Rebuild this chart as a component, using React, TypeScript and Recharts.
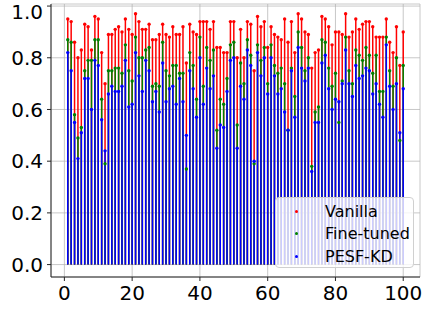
import { ScatterChart, Scatter, ErrorBar, XAxis, YAxis, CartesianGrid, Legend } from 'recharts';

// run index on the x axis
const runs = Array.from({ length: 100 }, (_, i) => i + 1);

const vanilla = [
  0.95, 0.94, 0.86, 0.8, 0.83, 0.93, 0.92, 0.83, 0.96, 0.95,
  0.82, 0.7, 0.89, 0.89, 0.91, 0.92, 0.9, 0.95, 0.91, 0.89,
  0.97, 0.94, 0.91, 0.91, 0.93, 0.87, 0.87, 0.89, 0.93, 0.89,
  0.88, 0.92, 0.89, 0.89, 0.92, 0.78, 0.93, 0.9, 0.89, 0.94,
  0.94, 0.94, 0.91, 0.94, 0.84, 0.84, 0.82, 0.82, 0.94, 0.94,
  0.8, 0.91, 0.8, 0.94, 0.93, 0.75, 0.96, 0.92, 0.94, 0.84,
  0.92, 0.89, 0.88, 0.87, 0.95, 0.86, 0.94, 0.82, 0.97, 0.95,
  0.9, 0.89, 0.76, 0.82, 0.83, 0.96, 0.95, 0.92, 0.85, 0.9,
  0.9, 0.89, 0.97, 0.88, 0.9, 0.95, 0.91, 0.93, 0.94, 0.94,
  0.92, 0.88, 0.88, 0.88, 0.95, 0.86, 0.82, 0.92, 0.77, 0.9,
];

const fineTuned = [
  0.87, 0.86, 0.58, 0.49, 0.53, 0.75, 0.79, 0.79, 0.87, 0.87,
  0.64, 0.39, 0.75, 0.75, 0.76, 0.76, 0.74, 0.85, 0.75, 0.71,
  0.88, 0.8, 0.8, 0.83, 0.84, 0.69, 0.7, 0.69, 0.86, 0.75,
  0.73, 0.77, 0.77, 0.74, 0.74, 0.37, 0.82, 0.77, 0.64, 0.88,
  0.69, 0.84, 0.79, 0.83, 0.52, 0.64, 0.62, 0.72, 0.85, 0.86,
  0.54, 0.78, 0.7, 0.87, 0.81, 0.39, 0.85, 0.79, 0.84, 0.7,
  0.85, 0.77, 0.74, 0.76, 0.7, 0.52, 0.76, 0.65, 0.9, 0.84,
  0.75, 0.8, 0.38, 0.59, 0.61, 0.87, 0.86, 0.76, 0.69, 0.74,
  0.55, 0.71, 0.88, 0.75, 0.7, 0.83, 0.81, 0.79, 0.84, 0.81,
  0.74, 0.81, 0.67, 0.67, 0.88, 0.75, 0.69, 0.8, 0.48, 0.77,
];

const pesfKd = [
  0.82, 0.75, 0.55, 0.41, 0.51, 0.72, 0.72, 0.6, 0.79, 0.77,
  0.56, 0.44, 0.66, 0.69, 0.67, 0.67, 0.69, 0.79, 0.61, 0.62,
  0.82, 0.73, 0.67, 0.79, 0.75, 0.63, 0.67, 0.59, 0.78, 0.63,
  0.68, 0.69, 0.62, 0.72, 0.63, 0.5, 0.75, 0.68, 0.57, 0.8,
  0.62, 0.76, 0.68, 0.73, 0.45, 0.54, 0.53, 0.67, 0.79, 0.8,
  0.45, 0.69, 0.64, 0.83, 0.77, 0.4, 0.82, 0.73, 0.8, 0.66,
  0.8, 0.73, 0.66, 0.68, 0.59, 0.52, 0.75, 0.57, 0.84, 0.76,
  0.71, 0.76, 0.36, 0.55, 0.55, 0.78, 0.81, 0.68, 0.6, 0.64,
  0.63, 0.7, 0.83, 0.7, 0.65, 0.77, 0.72, 0.73, 0.76, 0.75,
  0.66, 0.7, 0.62, 0.57, 0.85, 0.69, 0.6, 0.7, 0.51, 0.68,
];

const xTicks = [0, 20, 40, 60, 80, 100];
const yTicks = [0, 0.2, 0.4, 0.6, 0.8, 1.0];

// stem = error bar running from 0 up to the value
const toRows = (values: number[]) =>
  values.map((v, i) => ({ x: runs[i], y: v, stem: [v, 0] }));

const series = [
  { name: 'Vanilla', color: '#ff0000', rows: toRows(vanilla) },
  { name: 'Fine-tuned', color: '#008000', rows: toRows(fineTuned) },
  { name: 'PESF-KD', color: '#0000ff', rows: toRows(pesfKd) },
];

const tickStyle = { fill: '#000', fontSize: 20, fontFamily: 'DejaVu Sans' };
const frame = '#262626';

const renderLegend = (props: any) => {
  // keep plotting order, recharts sorts the payload by name
  const items = series
    .map((s) => props.payload.find((p: any) => p.value === s.name))
    .filter(Boolean);
  return (
    <div
      style={{
        boxSizing: 'border-box',
        width: 139,
        height: 71,
        paddingTop: 2,
        background: 'rgba(255,255,255,0.8)',
        border: '1px solid #d0d0d0',
        borderRadius: 4,
        fontFamily: 'DejaVu Sans',
        fontSize: 16,
        color: '#000',
      }}
    >
      {items.map((p: any) => (
        <div key={p.value} style={{ display: 'flex', alignItems: 'center', height: 22.5 }}>
          <span
            style={{
              width: 3,
              height: 3,
              borderRadius: 2,
              background: p.color,
              marginLeft: 19,
              marginRight: 27,
            }}
          />
          <span>{p.value}</span>
        </div>
      ))}
    </div>
  );
};

export default function App() {
  return (
    <div style={{ position: 'absolute', left: 0, top: 0 }}>
      <ScatterChart width={422} height={311} margin={{ top: 4, right: 2, bottom: 0, left: 0 }}>
        <CartesianGrid stroke="#b0b0b0" strokeOpacity={0.7} />
        <XAxis
          dataKey="x"
          type="number"
          domain={[-3.95, 104.95]}
          ticks={xTicks}
          allowDataOverflow
          height={34}
          tickSize={4}
          tickMargin={5}
          tick={tickStyle}
          stroke={frame}
        />
        <XAxis
          xAxisId="top"
          orientation="top"
          type="number"
          domain={[-3.95, 104.95]}
          height={0}
          tick={false}
          tickLine={false}
          stroke={frame}
        />
        <YAxis
          dataKey="y"
          type="number"
          domain={[-0.048, 1.008]}
          ticks={yTicks}
          allowDataOverflow
          width={51}
          tickSize={4}
          tickMargin={4}
          tick={tickStyle}
          tickFormatter={(v: number) => v.toFixed(1)}
          stroke={frame}
        />
        <YAxis
          yAxisId="right"
          orientation="right"
          type="number"
          domain={[-0.048, 1.008]}
          width={0}
          tick={false}
          tickLine={false}
          stroke={frame}
        />
        <Legend
          layout="vertical"
          align="center"
          verticalAlign="middle"
          wrapperStyle={{ left: 275, top: 197, width: 139 }}
          content={renderLegend}
        />
        {series.map((s) => (
          <Scatter
            key={s.name}
            name={s.name}
            data={s.rows}
            fill={s.color}
            isAnimationActive={false}
            shape={(p: any) => <circle cx={p.cx} cy={p.cy} r={1.7} fill={s.color} />}
          >
            <ErrorBar
              dataKey="stem"
              direction="y"
              width={0}
              stroke={s.color}
              strokeWidth={1.5}
              isAnimationActive={false}
            />
          </Scatter>
        ))}
      </ScatterChart>
    </div>
  );
}
